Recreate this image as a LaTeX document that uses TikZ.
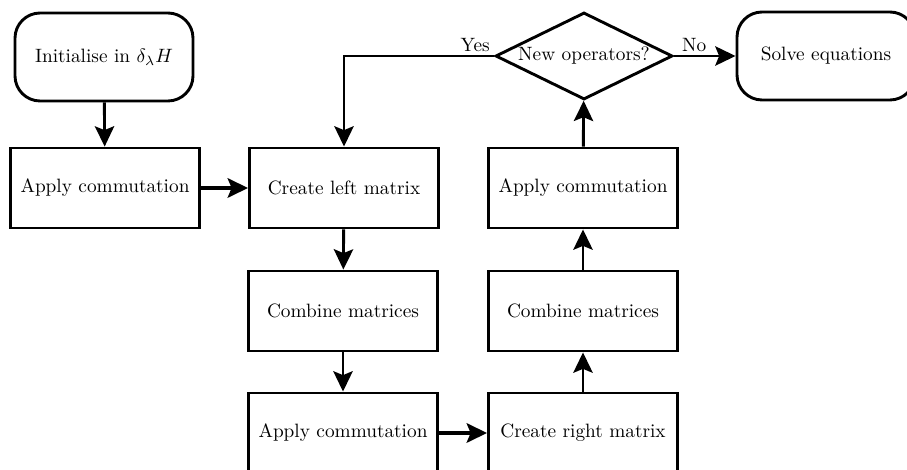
\documentclass[tikz,border=0pt]{standalone}
\usetikzlibrary{shapes.geometric,arrows.meta}
\begin{document}
\begin{tikzpicture}[x=0.0182cm,y=-0.0182cm,
  box/.style={draw,line width=1.5pt,rectangle,minimum width=189*0.0182cm,minimum height=80*0.0182cm,inner sep=0pt},
  term/.style={draw,line width=1.5pt,rectangle,rounded corners=13pt,minimum width=178*0.0182cm,minimum height=88*0.0182cm,inner sep=0pt},
  dec/.style={draw,line width=1.5pt,diamond,aspect=2,minimum width=177*0.0182cm,minimum height=87*0.0182cm,inner sep=0pt},
  conn/.style={line width=1.5pt,-{Stealth[length=10.5pt,width=10pt,inset=2pt]}},
  thick conn/.style={conn,line width=2pt},
  lbl/.style={inner sep=1.5pt,font=\normalsize}]
\useasboundingbox (0,0) rectangle (907,470);
\clip (0,0) rectangle (907,470);
\node[term] (init) at (104,57) {Initialise in $\delta_\lambda H$};
\node[box] (ap1) at (105,188) {Apply commutation};
\node[box] (cl) at (344,188) {Create left matrix};
\node[box] (cm1) at (343,311) {Combine matrices};
\node[box] (ap2) at (343,433) {Apply commutation};
\node[box] (cr) at (583,433) {Create right matrix};
\node[box] (cm2) at (583,311) {Combine matrices};
\node[box] (ap3) at (583,188) {Apply commutation};
\node[dec] (q) at (584,56) {New operators?};
\node[term] (solve) at (826,56) {Solve equations};
\draw[conn] (init) -- (ap1);
\draw[thick conn] (ap1) -- (cl);
\draw[conn] (cl) -- (cm1);
\draw[conn] (cm1) -- (ap2);
\draw[thick conn] (ap2) -- (cr);
\draw[conn] (cr) -- (cm2);
\draw[conn] (cm2) -- (ap3);
\draw[conn] (ap3) -- (q);
\draw[conn] (q.west) node[lbl,anchor=south east] {Yes} -| (cl.north);
\draw[conn] (q.east) node[lbl,anchor=south west,xshift=2pt] {No} -- (solve.west);
\end{tikzpicture}
\end{document}
